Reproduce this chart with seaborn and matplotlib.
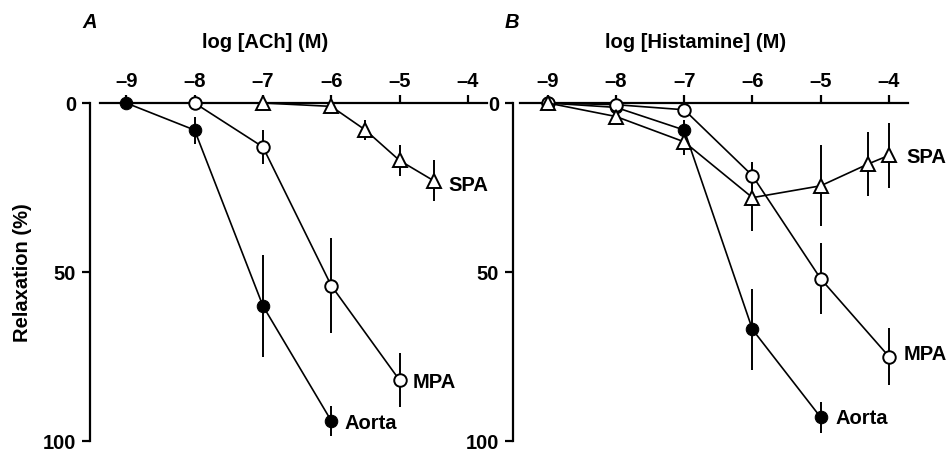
import numpy as np
import pandas as pd
import matplotlib
matplotlib.use("Agg")
import matplotlib.pyplot as plt
import seaborn as sns

sns.set_theme(style="ticks")
plt.rcParams['font.family'] = ['Liberation Sans', 'DejaVu Sans']
plt.rcParams.update({"text.color": "black", "axes.labelcolor": "black",
                     "xtick.color": "black", "ytick.color": "black",
                     "axes.edgecolor": "black", "font.weight": "bold",
                     "axes.labelweight": "bold"})

# ---------------------------
# Data (relaxation %, log molar)
# ---------------------------
# Panel A: ACh
ach_aorta_x = [-9, -8, -7, -6]
ach_aorta_y = [0, 8, 60, 94]
ach_aorta_err = [0, 4, 15, 4.5]

ach_mpa_x = [-8, -7, -6, -5]
ach_mpa_y = [0, 13, 54, 82]
ach_mpa_err = [0, 5, 14, 8]

ach_spa_x = [-7, -6, -5.5, -5, -4.5]
ach_spa_y = [0, 1, 8, 17, 23]
ach_spa_err = [0, 0, 3, 4.5, 6]

# Panel B: Histamine
his_aorta_x = [-9, -8, -7, -6, -5]
his_aorta_y = [0, 1.3, 8, 67, 93]
his_aorta_err = [0, 2, 3, 12, 4.5]

his_mpa_x = [-9, -8, -7, -6, -5, -4]
his_mpa_y = [0, 0.5, 2, 21.5, 52, 75]
his_mpa_err = [0, 0, 0, 4, 10.5, 8.5]

his_spa_x = [-9, -8, -7, -6, -5, -4.3, -4]
his_spa_y = [0, 4, 11.5, 28, 24.5, 18, 15.5]
his_spa_err = [0, 2, 4, 10, 12, 9.5, 9.5]

x_ticks = [-9, -8, -7, -6, -5, -4]
y_ticks = [0, 50, 100]

FS = 14.5
W, H = 950, 452
fig = plt.figure(figsize=(W / 100, H / 100), dpi=100)

def px_axes(left, right, top, bottom):
    return fig.add_axes([left / W, 1 - bottom / H, (right - left) / W, (bottom - top) / H])

axA = px_axes(90, 487, 104, 442)
axB = px_axes(513, 908, 104, 442)

marker_styles = {
    "Aorta": dict(marker="o", markersize=9, markerfacecolor="black", markeredgecolor="black"),
    "MPA": dict(marker="o", markersize=9, markerfacecolor="white", markeredgecolor="black", markeredgewidth=1.4),
    "SPA": dict(marker="^", markersize=10.5, markerfacecolor="white", markeredgecolor="black", markeredgewidth=1.4),
}

def draw_series(ax, x, y, err, name):
    df = pd.DataFrame({"logc": x, "relax": y, "err": err})
    ax.vlines(df["logc"], df["relax"] - df["err"], df["relax"] + df["err"],
              color="black", lw=1.4, zorder=2, clip_on=False)
    sns.lineplot(data=df, x="logc", y="relax", ax=ax, color="black", lw=1.2,
                 zorder=3, clip_on=False, **marker_styles[name])

def style_axes(ax, xlim, xline, xlabel, xlabel_pos, panel, panel_x):
    ax.set_xlim(*xlim)
    ax.set_ylim(100, 0)
    ax.xaxis.set_ticks_position("top")
    ax.set_xticks(x_ticks)
    ax.set_xticklabels([f"\u2013{abs(t)}" for t in x_ticks])
    ax.set_yticks(y_ticks)
    for s in ["bottom", "right"]:
        ax.spines[s].set_visible(False)
    ax.spines["top"].set_bounds(*xline)
    ax.spines["top"].set_linewidth(1.6)
    ax.spines["left"].set_linewidth(1.6)
    ax.tick_params(axis="x", direction="out", length=6, width=1.6, pad=3, labelsize=FS)
    ax.tick_params(axis="y", direction="out", length=6, width=1.6, pad=4, labelsize=FS)
    ax.set_xlabel("")
    ax.set_ylabel("")
    ax.text(xlabel_pos, 1.183, xlabel, transform=ax.get_xaxis_transform(),
            ha="center", va="center", fontsize=FS)
    ax.text(panel_x, 1.24, panel, transform=ax.transAxes, ha="left", va="center",
            fontsize=FS, fontweight="bold", style="italic")

# Panel A
draw_series(axA, ach_aorta_x, ach_aorta_y, ach_aorta_err, "Aorta")
draw_series(axA, ach_mpa_x, ach_mpa_y, ach_mpa_err, "MPA")
draw_series(axA, ach_spa_x, ach_spa_y, ach_spa_err, "SPA")
style_axes(axA, (-9.53, -3.72), (-9.38, -3.72), "log [ACh] (M)", -6.96, "A", -0.018)
axA.set_ylabel("Relaxation (%)", fontsize=FS, labelpad=8)
axA.text(-4.29, 24, "SPA", ha="left", va="center", fontsize=FS, clip_on=False)
axA.text(-4.81, 82.5, "MPA", ha="left", va="center", fontsize=FS)
axA.text(-5.80, 94.4, "Aorta", ha="left", va="center", fontsize=FS)

# Panel B
draw_series(axB, his_aorta_x, his_aorta_y, his_aorta_err, "Aorta")
draw_series(axB, his_mpa_x, his_mpa_y, his_mpa_err, "MPA")
draw_series(axB, his_spa_x, his_spa_y, his_spa_err, "SPA")
style_axes(axB, (-9.51, -3.72), (-9.41, -3.72), "log [Histamine] (M)", -6.84, "B", -0.02)
axB.text(-3.74, 15.7, "SPA", ha="left", va="center", fontsize=FS, clip_on=False)
axB.text(-3.79, 74, "MPA", ha="left", va="center", fontsize=FS, clip_on=False)
axB.text(-4.79, 93, "Aorta", ha="left", va="center", fontsize=FS)

fig.savefig("out.png", dpi=100, facecolor="white")
